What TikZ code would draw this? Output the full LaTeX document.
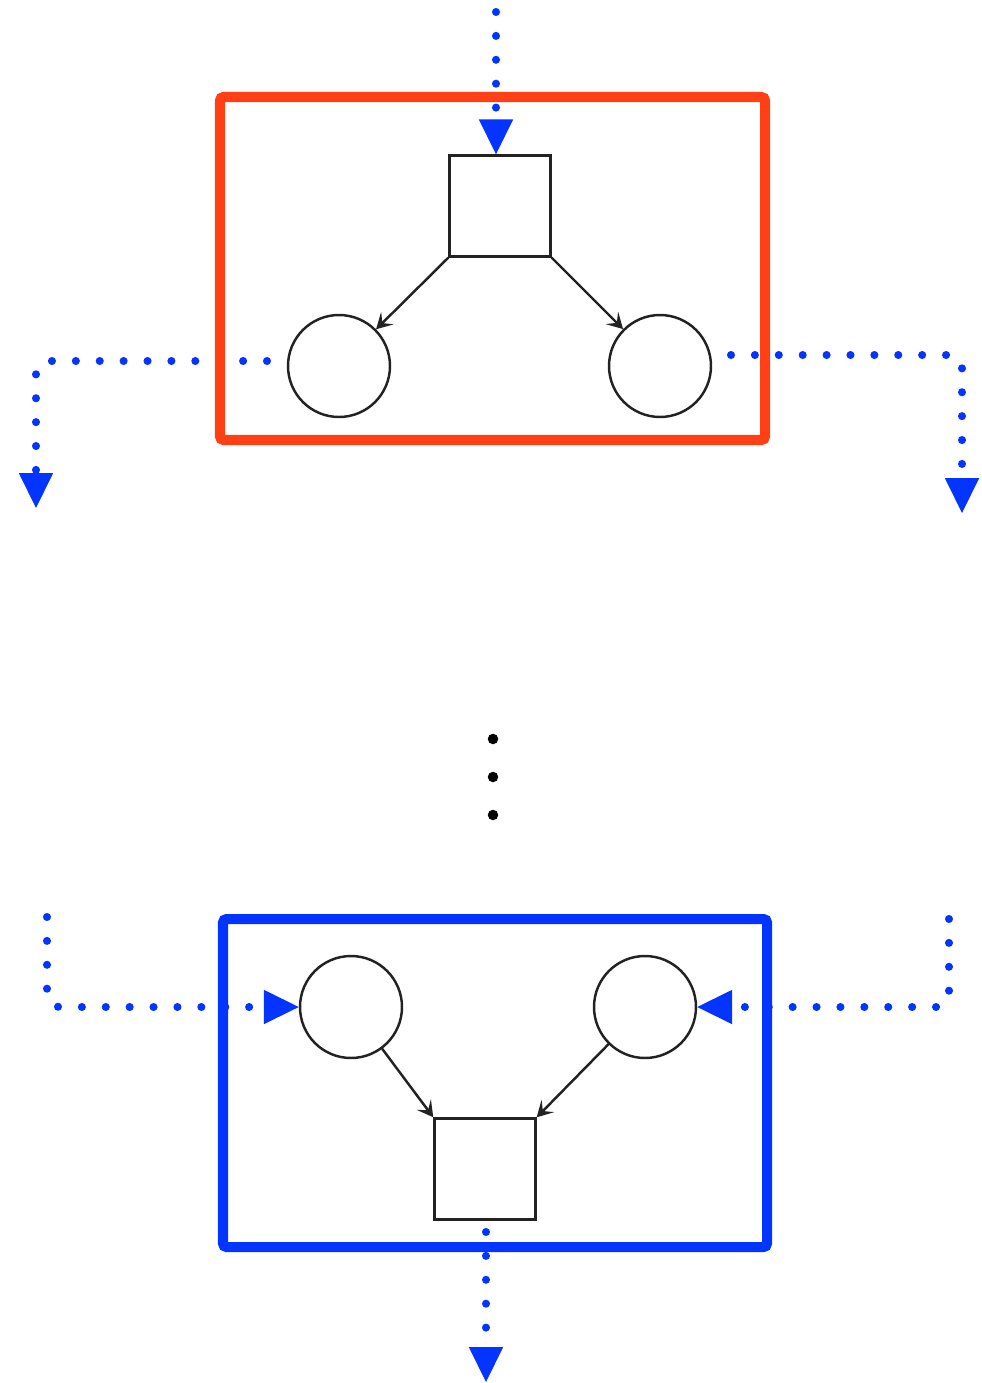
\documentclass[tikz,border=0pt]{standalone}
\usetikzlibrary{arrows.meta,calc}
\definecolor{boxred}{HTML}{FF4014}
\definecolor{flowblue}{HTML}{0434FF}
\definecolor{ink}{HTML}{222222}
\begin{document}
\begin{tikzpicture}[x=0.02cm,y=-0.02cm,line cap=round,
  sqnode/.style={draw=ink,line width=1.4pt,minimum size=2.02cm,inner sep=0pt},
  circnode/.style={circle,draw=ink,line width=1.4pt,minimum size=2.04cm,inner sep=0pt},
  edgearrow/.style={ink,line width=1.4pt,-{Stealth[length=9pt,width=10pt,inset=4pt]}},
  dotflow/.style={flowblue,line width=4.6pt,dash pattern=on 0pt off 13.6pt,rounded corners=7pt,
    -{Triangle[length=19.8pt,width=19.5pt,line width=0pt]}},
  groupbox/.style={line width=5.7pt,rounded corners=2pt}]
  \useasboundingbox (0,0) rectangle (982,1383);
  % --- bloque superior (rojo) ---
  \begin{scope}
    \node[sqnode] (sqT) at (500,206) {};
    \node[circnode] (cTL) at (339,366) {};
    \node[circnode] (cTR) at (660,366) {};
    \draw[edgearrow] (sqT.south west) -- (cTL);
    \draw[edgearrow] (sqT.south east) -- (cTR);
    \coordinate (inT)   at (496,12);
    \coordinate (outLa) at (267,361);
    \coordinate (outLb) at (36,361);
    \coordinate (outL)  at (36,508);
    \coordinate (outRa) at (731,355);
    \coordinate (outRb) at (962,355);
    \coordinate (outR)  at (962,513);
    \draw[dotflow] (inT) -- (inT |- sqT.north);
    \draw[dotflow] (outLa) -- (outLb) -- (outL);
    \draw[dotflow] (outRa) -- (outRb) -- (outR);
    \draw[groupbox,draw=boxred] (220,97) rectangle (765,440);
  \end{scope}
  % --- puntos suspensivos ---
  \foreach \y in {739,777,815}
    \fill (493,\y) circle (0.105cm);
  % --- bloque inferior (azul) ---
  \begin{scope}
    \node[sqnode] (sqB) at (485,1169) {};
    \node[circnode] (cBL) at (351,1007) {};
    \node[circnode] (cBR) at (645,1007) {};
    \draw[edgearrow] (cBL) -- (sqB.north west);
    \draw[edgearrow] (cBR) -- (sqB.north east);
    \coordinate (inLa)  at (47,917);
    \coordinate (inLb)  at (47,1007);
    \coordinate (inRa)  at (949,919);
    \coordinate (inRb)  at (949,1007);
    \coordinate (outBa) at (486,1232);
    \coordinate (outB)  at (486,1382);
    \draw[dotflow] (inLa) -- (inLb) -- (cBL.west);
    \draw[dotflow] (inRa) -- (inRb) -- (cBR.east);
    \draw[dotflow] (outBa) -- (outB);
    \draw[groupbox,draw=flowblue] (223,919) rectangle (767,1247);
  \end{scope}
\end{tikzpicture}
\end{document}
